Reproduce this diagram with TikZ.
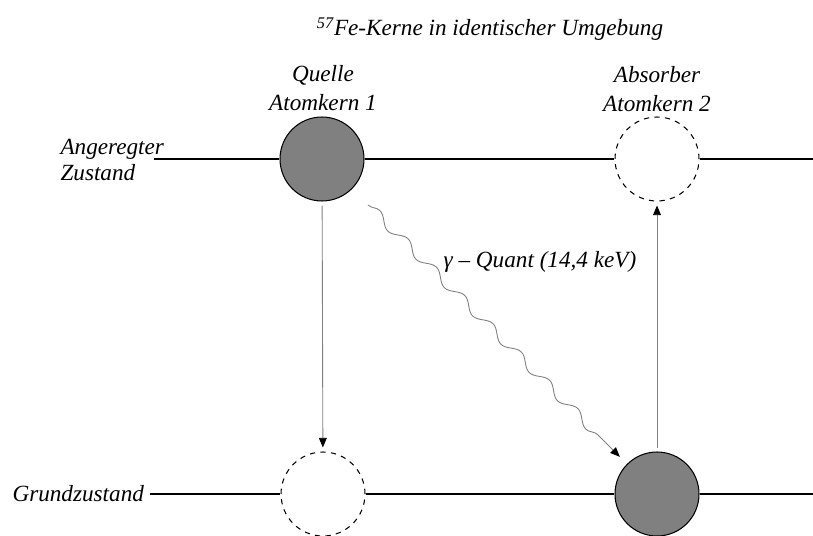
\documentclass[tikz,border=0pt]{standalone}
\usepackage{fontspec}
\setmainfont{Liberation Serif}
\usetikzlibrary{arrows.meta,calc,decorations.pathmorphing}
\definecolor{kerngrau}{HTML}{808080}

\begin{document}
\begin{tikzpicture}[x=0.02cm, y=-0.02cm, line width=0.6pt,
  kern/.style={circle, draw, minimum size=1.68cm, inner sep=0pt},
  voll/.style={kern, fill=kerngrau},
  leer/.style={kern, dashed, fill=white},
  beschr/.style={font=\fontsize{13.2}{16.5}\selectfont\itshape, inner sep=0pt},
  uebergang/.style={draw=kerngrau, line width=0.5pt, -{Triangle[black, length=5.5pt, width=4.5pt]}}
]
\useasboundingbox (0,0) rectangle (813,536);

%%%%% Beschriftung %%%%%
\node[beschr] (titel) at (490,29) {\textsuperscript{57}Fe-Kerne in identischer Umgebung};
\node[beschr, align=center] (quelle) at (323,88) {Quelle\\Atomkern 1};
\node[beschr, align=center] (absorber) at (657,89) {Absorber\\Atomkern 2};
\node[beschr, align=left, anchor=west, font=\fontsize{13.2}{15}\selectfont\itshape] (angeregt) at (60,160) {Angeregter\\Zustand};
\node[beschr, anchor=west] (grund) at (12,494) {Grundzustand};

%%%%% Kerne %%%%%
\node[voll] (q1) at (322,159) {};
\node[leer] (a2) at (657,159) {};
\node[leer] (q2) at (323,494) {};
\node[voll] (a1) at (657,494) {};

%%%%% Niveaus %%%%%
\coordinate (obenL) at (154,159);
\coordinate (obenR) at (813,159);
\coordinate (untenL) at (150,494);
\coordinate (untenR) at (813,494);
\draw (obenL) -- (q1) -- (a2) -- (obenR);
\draw (untenL) -- (q2) -- (a1) -- (untenR);

%%%%% Uebergaenge %%%%%
\draw[uebergang, shorten <=0.08cm, shorten >=0.08cm] (q1) -- (q2);
\draw[uebergang, shorten <=0.06cm, shorten >=0.08cm] (a1) -- (a2);
\draw[uebergang, decorate,
  decoration={snake, amplitude=0.09cm, segment length=0.8cm, post length=0.25cm}]
  ($(q1)!1.3cm!(a1)$) -- ($(a1)!1.05cm!(q1)$);

\node[beschr] (quant) at (540,262) {γ – Quant (14,4 keV)};
\end{tikzpicture}
\end{document}
